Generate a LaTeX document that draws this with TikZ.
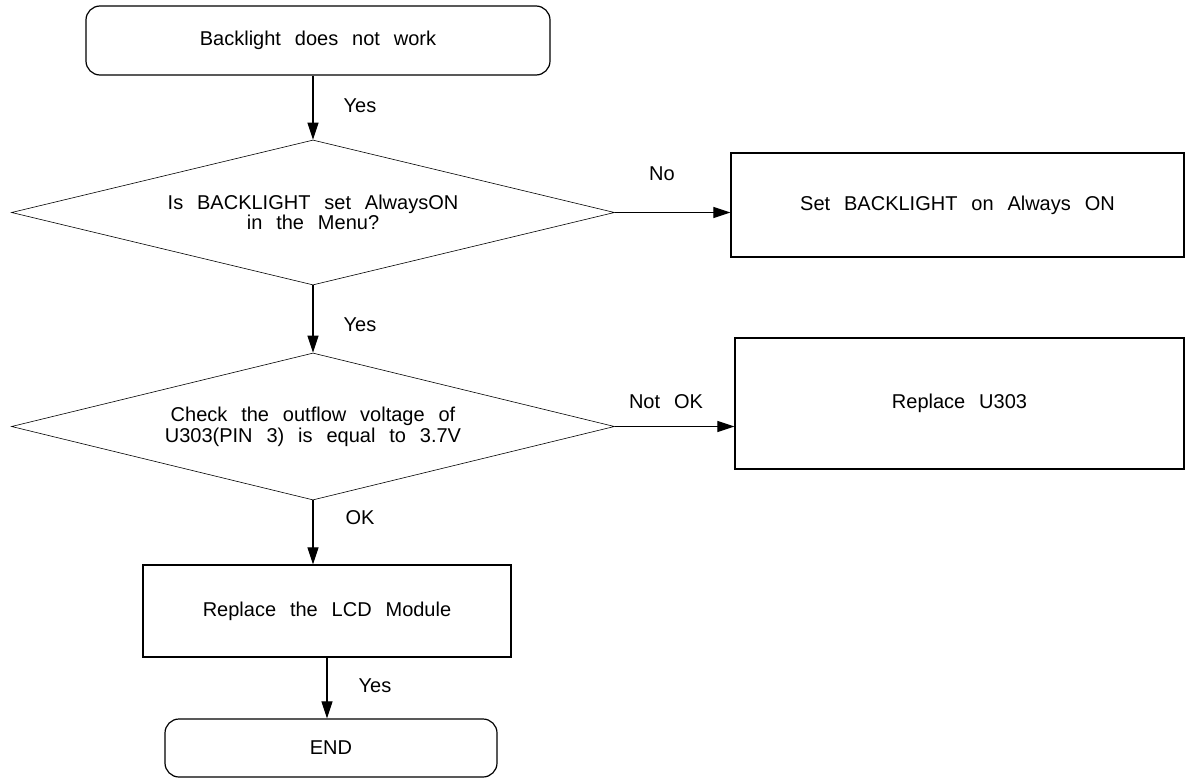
\documentclass[tikz,border=0pt]{standalone}
\usepackage{fontspec}
\setmainfont{Liberation Sans}[WordSpace=2.5]
\usetikzlibrary{shapes.geometric,arrows.meta}
\begin{document}
\begin{tikzpicture}[x=1pt,y=-1pt,
  font=\fontsize{20}{21}\selectfont,
  term/.style={draw, rounded corners=14pt, line width=1.2pt, inner sep=0pt},
  proc/.style={draw, line width=1.2pt, inner sep=0pt},
  dec/.style={draw, diamond, shape aspect=4.15, line width=0.6pt, inner sep=0pt, align=center},
  flow/.style={-{Triangle[length=17pt,width=11pt]}, line width=1.1pt},
  lbl/.style={inner sep=0pt}]
\path[use as bounding box] (0,0) rectangle (1191,781);
\node[term, minimum width=464pt, minimum height=69pt] (start) at (318,40.5) {Backlight does not work};
\node[dec, minimum width=603pt, minimum height=145pt, font=\fontsize{20}{17}\selectfont] (d1) at (313,212.5) {Is BACKLIGHT set AlwaysON\\in the Menu?};
\node[proc, minimum width=453pt, minimum height=104pt] (b1) at (957.5,205) {Set BACKLIGHT on Always ON};
\node[dec, minimum width=603pt, minimum height=147pt] (d2) at (313,426.5) {Check the outflow voltage of\\U303(PIN 3) is equal to 3.7V};
\node[proc, minimum width=449pt, minimum height=131pt] (b2) at (959.5,403.5) {Replace U303};
\node[proc, minimum width=368pt, minimum height=92pt] (lcd) at (327,611) {Replace the LCD Module};
\node[term, minimum width=332pt, minimum height=58pt] (end) at (331,748) {END};
\draw[flow] (d1.north |- start.south) -- (d1.north);
\draw[flow] (d1.south) -- (d2.north);
\draw[flow] (d1.east) -- (d1.east -| b1.west);
\draw[flow] (d2.east) -- (d2.east -| b2.west);
\draw[flow] (d2.south) -- (d2.south |- lcd.north);
\draw[flow] (lcd.south) -- (lcd.south |- end.north);
\node[lbl] (y1) at (360,106) {Yes};
\node[lbl] (no) at (662,174) {No};
\node[lbl] (y2) at (360,325) {Yes};
\node[lbl] (nok) at (666,402) {Not OK};
\node[lbl] (ok) at (360,518) {OK};
\node[lbl] (y3) at (375,686) {Yes};
\end{tikzpicture}
\end{document}
